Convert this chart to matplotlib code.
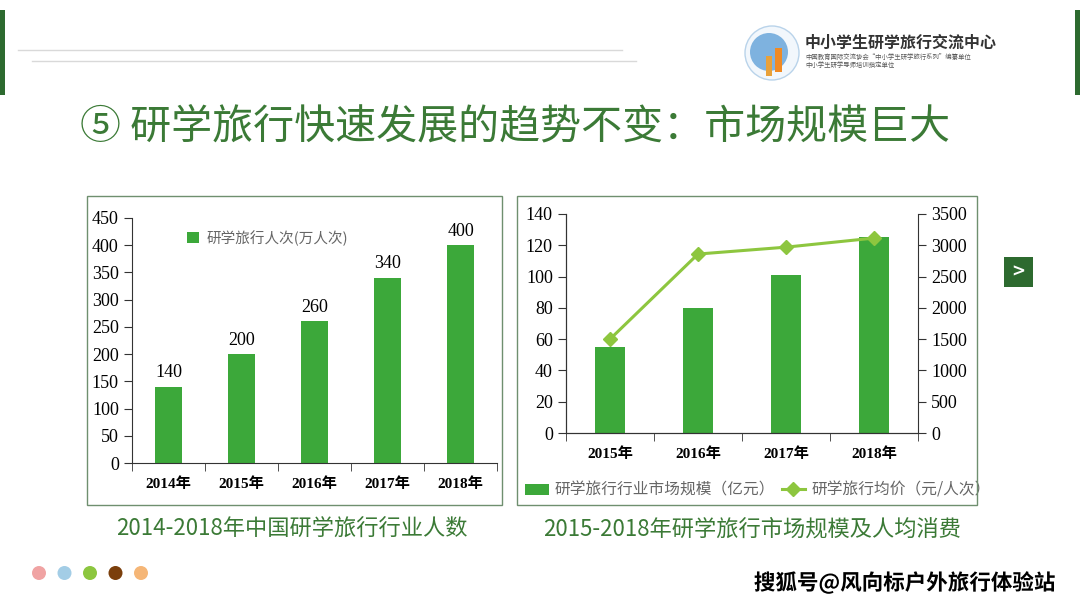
import matplotlib
matplotlib.use("Agg")
import matplotlib.pyplot as plt
from matplotlib.patches import Rectangle, Circle
from matplotlib.lines import Line2D
from matplotlib.transforms import IdentityTransform
import matplotlib.patheffects as pe

# данные
years_left = ["2014年", "2015年", "2016年", "2017年", "2018年"]
people = [140, 200, 260, 340, 400]

years_right = ["2015年", "2016年", "2017年", "2018年"]
market_size = [55, 80, 101, 125]
avg_price = [1500, 2860, 2970, 3115]

dot_colors = ["#f0a3a3", "#a3cde6", "#8cc63f", "#7b3f0c", "#f5b677"]

W, H = 1080, 608
CJK = ["Noto Sans CJK SC", "DejaVu Sans"]
SERIF = ["Liberation Serif", "Noto Sans CJK SC"]
BAR = "#3ca83a"
LINE = "#8dc63f"
DARK = "#2d6a2f"
TITLE = "#3b7a36"

plt.rcParams["font.family"] = CJK


def rect(x0, y0, x1, y1):
    # пиксели -> доли фигуры
    return [x0 / W, 1 - y1 / H, (x1 - x0) / W, (y1 - y0) / H]


def fx(x):
    return x / W


def fy(y):
    return 1 - y / H


fig = plt.figure(figsize=(W / 100, H / 100), dpi=100)
fig.patch.set_facecolor("white")
px = IdentityTransform()  # пиксели экрана, начало снизу слева

# рамка слайда
fig.add_artist(Rectangle((0, fy(95)), fx(5), fy(10) - fy(95), transform=fig.transFigure, color=DARK, lw=0))
fig.add_artist(Rectangle((fx(1075), fy(95)), fx(5), fy(10) - fy(95), transform=fig.transFigure, color=DARK, lw=0))
fig.add_artist(Line2D([fx(18), fx(622)], [fy(50), fy(50)], transform=fig.transFigure, color="#d9d9d9", lw=1))
fig.add_artist(Line2D([fx(32), fx(636)], [fy(61), fy(61)], transform=fig.transFigure, color="#d9d9d9", lw=1))

# логотип
fig.add_artist(Circle((772, H - 53), 27, transform=px, facecolor="#f2f7fc", edgecolor="#b9d3ea", lw=1))
fig.add_artist(Circle((769, H - 52), 19, transform=px, facecolor="#6aa6da", edgecolor="none", alpha=0.85))
fig.add_artist(Rectangle((775, H - 72), 7, 24, transform=px, color="#f08a24", lw=0))
fig.add_artist(Rectangle((766, H - 76), 6, 20, transform=px, color="#e8a13a", lw=0))
fig.text(fx(805), fy(43), "中小学生研学旅行交流中心", fontsize=11.5, fontweight="bold", color="#333333", va="center")
fig.text(fx(805), fy(57), "中国教育国际交流协会“中小学生研学旅行系列”编纂单位", fontsize=4.6, color="#555555", va="center")
fig.text(fx(805), fy(65), "中小学生研学导师培训指定单位", fontsize=4.6, color="#555555", va="center")

# заголовок
fig.text(fx(80), fy(127), "⑤ 研学旅行快速发展的趋势不变：市场规模巨大", fontsize=29.5, color=TITLE, va="center")

# рамки графиков
for x0, x1 in [(87, 502), (517, 977)]:
    fig.add_artist(Rectangle((fx(x0), fy(505)), fx(x1 - x0), fy(196) - fy(505), transform=fig.transFigure,
                             facecolor="none", edgecolor="#6f8f6f", lw=1))

# левый график
ax1 = fig.add_axes(rect(132, 218, 497, 463))
bars1 = ax1.bar(range(len(people)), people, width=0.36, color=BAR, label="研学旅行人次(万人次)")
ax1.bar_label(bars1, padding=4, fontsize=13, family=SERIF)
ax1.set_xlim(-0.5, len(people) - 0.5)
ax1.set_ylim(0, 450)
ax1.set_yticks(range(0, 451, 50))
ax1.set_xticks(range(len(people)))
ax1.set_xticklabels(years_left, fontweight="bold", fontsize=11, family=SERIF)
ax1.set_xticks([i - 0.5 for i in range(len(people) + 1)], minor=True)
ax1.tick_params(axis="x", which="major", length=0, pad=10)
ax1.tick_params(axis="x", which="minor", length=6, direction="out", color="#333333")
ax1.tick_params(axis="y", length=6, direction="out", color="#333333", labelsize=13)
for lbl in ax1.get_yticklabels():
    lbl.set_family(SERIF)
for s in ["top", "right"]:
    ax1.spines[s].set_visible(False)
for s in ["left", "bottom"]:
    ax1.spines[s].set_color("#333333")
ax1.legend(loc="upper left", bbox_to_anchor=(fx(174), fy(217)), bbox_transform=fig.transFigure, frameon=False,
           fontsize=10.5, handlelength=0.8, handleheight=0.8, handletextpad=0.5, labelcolor="#666666")

# правый график
ax2 = fig.add_axes(rect(566, 214, 918, 433))
bars2 = ax2.bar(range(len(market_size)), market_size, width=0.33, color=BAR, label="研学旅行行业市场规模（亿元）")
ax2.set_xlim(-0.5, len(market_size) - 0.5)
ax2.set_ylim(0, 140)
ax2.set_yticks(range(0, 141, 20))
ax2.set_xticks(range(len(market_size)))
ax2.set_xticklabels(years_right, fontweight="bold", fontsize=11, family=SERIF)
ax2.set_xticks([i - 0.5 for i in range(len(market_size) + 1)], minor=True)
ax2.tick_params(axis="x", which="major", length=0, pad=10)
ax2.tick_params(axis="x", which="minor", length=6, direction="out", color="#333333")
ax2.tick_params(axis="y", length=6, direction="out", color="#333333", labelsize=13)
for lbl in ax2.get_yticklabels():
    lbl.set_family(SERIF)

ax3 = ax2.twinx()
line, = ax3.plot(range(len(avg_price)), avg_price, color=LINE, lw=2.2, marker="D", markersize=7,
                 label="研学旅行均价（元/人次）")
ax3.set_ylim(0, 3500)
ax3.set_yticks(range(0, 3501, 500))
ax3.tick_params(axis="y", length=6, direction="out", color="#333333", labelsize=13)
for lbl in ax3.get_yticklabels():
    lbl.set_family(SERIF)
for a in (ax2, ax3):
    a.spines["top"].set_visible(False)
    for s in ["left", "right", "bottom"]:
        a.spines[s].set_color("#333333")
ax2.spines["right"].set_visible(False)

ax2.legend(handles=[bars2, line], loc="center left", bbox_to_anchor=(fx(514), fy(490)), bbox_transform=fig.transFigure,
           ncol=2, frameon=False, fontsize=11.3, handlelength=1.5, handleheight=0.7, handletextpad=0.4,
           columnspacing=0.4, borderpad=0.2, labelcolor="#666666")

# подписи графиков
fig.text(fx(292), fy(529), "2014-2018年中国研学旅行行业人数", fontsize=16, color=TITLE, ha="center", va="center")
fig.text(fx(752), fy(529), "2015-2018年研学旅行市场规模及人均消费", fontsize=16, color=TITLE, ha="center", va="center")

# кнопка "далее"
fig.add_artist(Rectangle((fx(1004), fy(287)), fx(29), fy(257) - fy(287), transform=fig.transFigure, color=DARK, lw=0))
fig.text(fx(1018.5), fy(272), ">", fontsize=12, fontweight="bold", color="white", ha="center", va="center",
         family="DejaVu Sans")

# точки внизу
for i, c in enumerate(dot_colors):
    fig.add_artist(Circle((39 + i * 25.5, H - 573), 7, transform=px, color=c, lw=0))

# водяной знак
fig.text(fx(1055), fy(583), "搜狐号@风向标户外旅行体验站", fontsize=15.5, fontweight="bold", color="black",
         ha="right", va="center",
         path_effects=[pe.withStroke(linewidth=2.5, foreground="white")])

fig.savefig("out.png", dpi=100, facecolor="white")
